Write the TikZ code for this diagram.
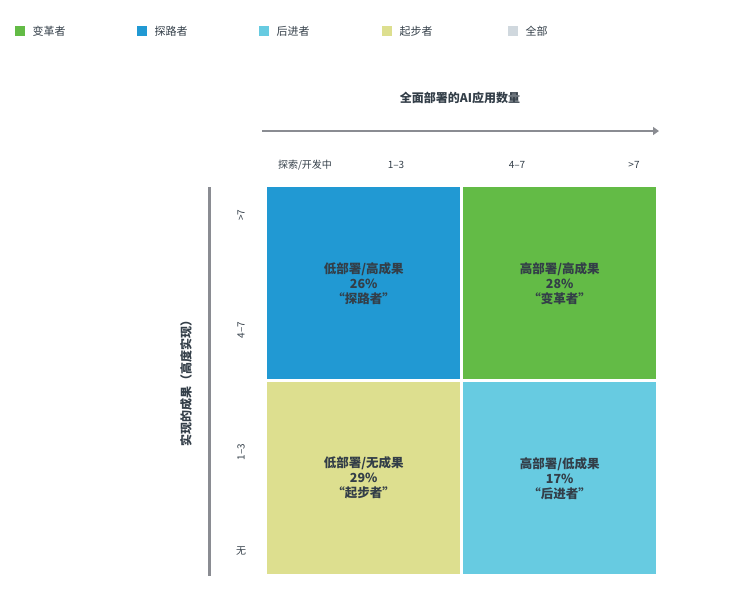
\documentclass[tikz,border=0pt]{standalone}
\usepackage{fontspec}
\setmainfont{Noto Sans CJK SC}
\usetikzlibrary{arrows.meta}
\definecolor{cblue}{HTML}{2199D3}
\definecolor{cgreen}{HTML}{63BB46}
\definecolor{cyel}{HTML}{DDDF8F}
\definecolor{clb}{HTML}{67CBE1}
\definecolor{cgray}{HTML}{D0D8DE}
\definecolor{ctext}{HTML}{333E48}
\definecolor{caxis}{HTML}{8A8C92}
\tikzset{
  sq/.style={minimum size=9.5pt,inner sep=0,fill=#1},
  leg/.style={anchor=west,font=\fontsize{11}{13}\selectfont,text=ctext},
  quad/.style={minimum width=193pt,minimum height=192pt,inner sep=0,anchor=north west,fill=#1,
     align=center,font=\bfseries\fontsize{12.5}{15}\selectfont,text=ctext},
  lab/.style={font=\fontsize{10}{12}\selectfont,text=ctext}
}
\begin{document}
\begin{tikzpicture}[x=1pt,y=-1pt]
\useasboundingbox (0,0) rectangle (735,600);
\foreach \x/\c/\t/\n in {20/cgreen/变革者/a,142/cblue/探路者/b,264/clb/后进者/c,387/cyel/起步者/d,513/cgray/全部/e}{
  \node[sq=\c] (s\n) at (\x,31) {};
  \node[leg] (l\n) at (\x+9,31) {\t};
}
\node[font=\bfseries\fontsize{12}{14}\selectfont,text=ctext] (title) at (460,98) {全面部署的AI应用数量};
\coordinate (a0) at (262,131); \coordinate (a1) at (659,131);
\draw[caxis,line width=2.5pt,-{Triangle[length=6pt,width=8pt]}] (a0) -- (a1);
\node[lab] (c0) at (305,165) {探索/开发中};
\node[lab] (c1) at (396,165) {1–3};
\node[lab] (c2) at (517,165) {4–7};
\node[lab] (c3) at (634,165) {>7};
\coordinate (v0) at (209,187); \coordinate (v1) at (209,576);
\draw[caxis,line width=3pt] (v0) -- (v1);
\node[lab,rotate=90] (r0) at (241,215) {>7};
\node[lab,rotate=90] (r1) at (241,330) {4–7};
\node[lab,rotate=90] (r2) at (241,452) {1–3};
\node[lab] (r3) at (241,551) {无};
\node[rotate=90,font=\bfseries\fontsize{12}{14}\selectfont,text=ctext] (ytitle) at (186,380) {实现的成果（高度实现）};
\node[quad=cblue] (q1) at (267,187) {低部署/高成果\\26\%\\“探路者”};
\node[quad=cgreen] (q2) at (463,187) {高部署/高成果\\28\%\\“变革者”};
\node[quad=cyel] (q3) at (267,382) {低部署/无成果\\29\%\\“起步者”};
\node[quad=clb] (q4) at (463,382) {高部署/低成果\\17\%\\“后进者”};
\end{tikzpicture}
\end{document}
